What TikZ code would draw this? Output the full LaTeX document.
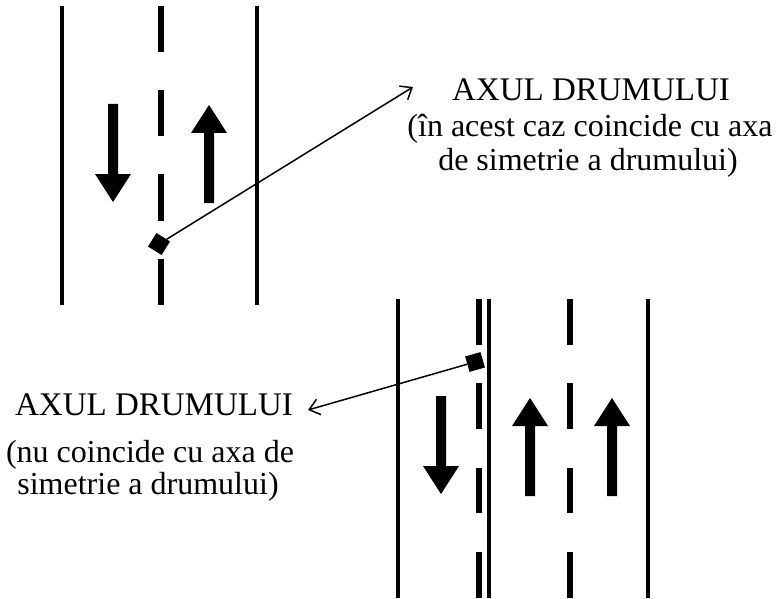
\documentclass[tikz,border=0pt]{standalone}
\usepackage{fontspec}
\setmainfont{Liberation Serif}
\usetikzlibrary{arrows.meta}
\begin{document}
\begin{tikzpicture}[x=1pt,y=-1pt,
  roadline/.style={line width=4.8pt},
  dashseg/.style={line width=5.2pt},
  callout/.style={line width=1.5pt,-{Straight Barb[length=10pt,width=16pt,line width=1.5pt]}},
  marker/.style={rectangle,fill=black,minimum size=16pt,inner sep=0pt},
  lbl/.style={font=\fontsize{32}{36}\selectfont,anchor=base,inner sep=0pt},
  ttl/.style={font=\fontsize{33}{36}\selectfont,anchor=base,inner sep=0pt},
  pics/laneup/.style={code={
    \fill (0,0) -- (18,28) -- (5,28) -- (5,98) -- (-5,98) -- (-5,28) -- (-18,28) -- cycle;}},
  pics/lanedown/.style={code={
    \fill (0,0) -- (18,-28) -- (5,-28) -- (5,-98) -- (-5,-98) -- (-5,-28) -- (-18,-28) -- cycle;}}
]
\useasboundingbox (0,0) rectangle (776,599);
% ---- top road ----
\draw[roadline] (62,6) -- (62,305);
\draw[roadline] (257,6) -- (257,305);
\foreach \a/\b in {6/52,90/136,174/221,259/305}
  \draw[dashseg] (161,\a) -- (161,\b);
\pic at (113,202) {lanedown};
\pic at (209,105) {laneup};
\node[marker,rotate=-32] (m1) at (159,244) {};
\coordinate (t1) at (413,87);
\draw[callout] (m1) -- (t1);
\node[ttl] (a1) at (591,101) {AXUL DRUMULUI};
\node[lbl] (a2) at (590,137) {(în acest caz coincide cu axa};
\node[lbl] (a3) at (588,170) {de simetrie a drumului)};
% ---- bottom road ----
\draw[roadline] (398,299) -- (398,598);
\draw[roadline] (489,299) -- (489,598);
\draw[roadline] (648,299) -- (648,598);
\foreach \a/\b in {299/345,383/429,468/513,552/598}{
  \draw[dashseg] (479,\a) -- (479,\b);
  \draw[dashseg] (570,\a) -- (570,\b);}
\pic at (441,494) {lanedown};
\pic at (530,398) {laneup};
\pic at (612,398) {laneup};
\node[marker,rotate=16] (m2) at (475,362) {};
\coordinate (t2) at (308,410);
\draw[callout] (m2) -- (t2);
\node[ttl] (b1) at (154,415) {AXUL DRUMULUI};
\node[lbl] (b2) at (150,462) {(nu coincide cu axa de};
\node[lbl] (b3) at (148,494) {simetrie a drumului)};
\end{tikzpicture}
\end{document}
